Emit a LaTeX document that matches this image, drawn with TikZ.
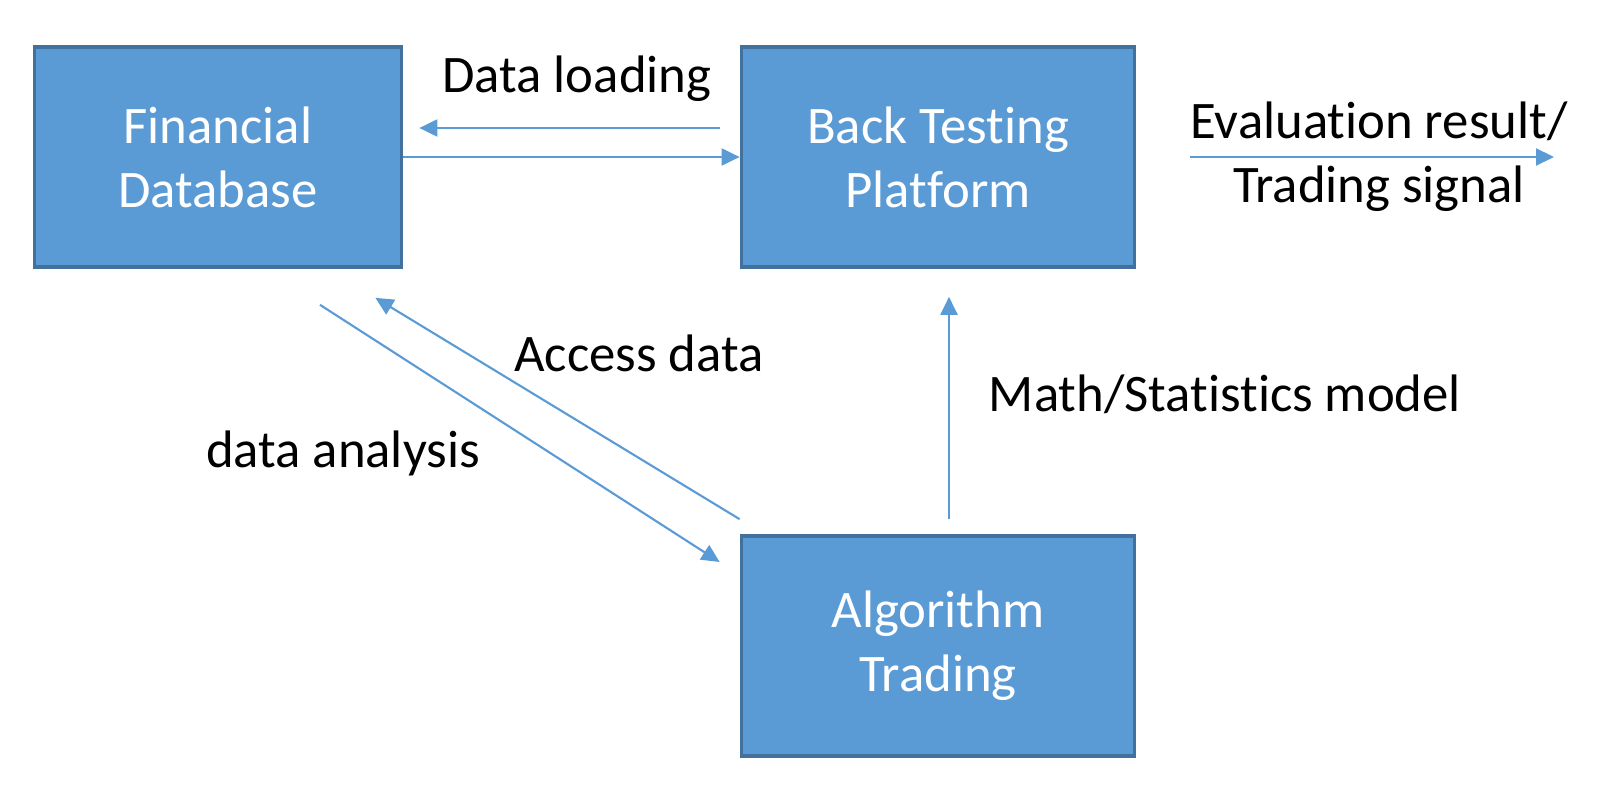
\documentclass[tikz,border=0pt]{standalone}
\usepackage{fontspec}
\setmainfont[Ligatures=NoCommon]{Carlito}
\usetikzlibrary{arrows.meta,positioning}
\definecolor{FlowFill}{HTML}{5B9BD5}
\definecolor{FlowEdge}{HTML}{41719C}
\definecolor{FlowLine}{HTML}{5B9BD5}
\tikzset{
  flow/box/.style={
    draw=FlowEdge, line width=1pt, fill=FlowFill,
    minimum height=2.2cm, text=white, align=center,
    font=\fontsize{15}{18.2}\selectfont
  },
  flow/arrow/.style={
    -{Triangle[length=1.8mm,width=1.7mm]}, line width=.6pt, draw=FlowLine
  },
  flow/label/.style={font=\fontsize{15}{18.2}\selectfont, align=center}
}
\begin{document}
\begin{tikzpicture}[x=.01cm,y=-.01cm]
  \useasboundingbox (0,0) rectangle (1624,788);
  % the three blocks
  \node[flow/box,minimum width=3.67cm] (fdb) at (218,157) {Financial\\Database};
  \node[flow/box,minimum width=3.93cm] (btp) at (938,157) {Back Testing\\Platform};
  \node[flow/box,minimum width=3.93cm] (algo) at (938,646) {Algorithm\\Trading};
  \coordinate (out) at (1554,157);
  % connectors
  \draw[flow/arrow] ([shift={(-20,-29)}]btp.west) -- ([shift={(16,-29)}]fdb.east);
  \draw[flow/arrow] (fdb.east) -- (btp.west);
  \draw[flow/arrow] ([xshift=.54cm]btp.east) -- (out);
  \draw[flow/arrow] ([shift={(11,-15)}]algo.north) -- ([shift={(11,28)}]btp.south);
  \draw[flow/arrow] ([shift={(102,36)}]fdb.south) -- ([shift={(-20,-84)}]algo.west);
  \draw[flow/arrow] ([shift={(0,-15)}]algo.north west) -- ([shift={(-28,29)}]fdb.south east);
  % labels
  \node[flow/label] (lload) at (577,79) {Data loading};
  \node[flow/label] (leval) at (1379,157) {Evaluation result/\\Trading signal};
  \node[flow/label] (lmath) at (1225,394) {Math/Statistics model};
  \node[flow/label] (lacc) at (639,353) {Access data};
  \node[flow/label] (lana) at (343,453) {data analysis};
\end{tikzpicture}
\end{document}
